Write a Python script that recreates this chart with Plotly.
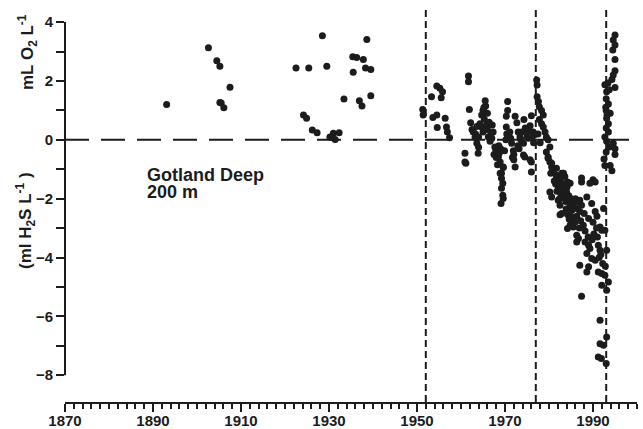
import plotly.graph_objects as go

# ---- data (year, mL O2/L ; negative = H2S) ----
years_early = [1893.1, 1902.6, 1904.5, 1905.2, 1907.5, 1905.2, 1905.5, 1906.1,
               1922.5, 1925.4, 1928.5, 1929.5, 1924.2, 1924.9, 1926.2, 1927.3,
               1930.2, 1931.0, 1932.3, 1931.4, 1930.5, 1933.4, 1935.4, 1936.3,
               1937.8, 1938.6, 1935.5, 1938.3, 1939.5, 1936.9, 1937.5, 1939.5]
vals_early = [1.2, 3.13, 2.69, 2.5, 1.79, 1.27, 1.25, 1.09,
              2.44, 2.44, 3.54, 2.5, 0.84, 0.73, 0.33, 0.24,
              0.1, 0.22, 0.24, 0.01, 0.08, 1.39, 2.82, 2.8,
              2.73, 3.41, 2.3, 2.44, 2.39, 1.33, 1.15, 1.5]

years_50s = [1951.3, 1951.4, 1953.3, 1954.5, 1955.2, 1955.8, 1955.5, 1953.6,
             1954.5, 1954.6, 1956.4, 1956.7, 1956.9, 1957.4]
vals_50s = [1.03, 0.84, 1.46, 1.83, 1.75, 1.63, 1.43, 0.76,
            0.84, 0.42, 0.73, 0.44, 0.27, 0.07]

years_60s = [1960.9, 1960.9, 1961.1, 1961.7, 1961.7, 1961.9, 1962.2, 1962.5, 1962.8,
             1963.2, 1963.6, 1963.9, 1963.3, 1964.0, 1964.3, 1964.7, 1965.0, 1965.5,
             1965.6, 1964.7, 1965.0, 1965.8, 1965.3, 1966.0, 1966.2, 1966.6, 1966.0,
             1967.3, 1967.0, 1967.7, 1968.1, 1968.5, 1968.9, 1969.6, 1969.2, 1968.0,
             1967.5, 1968.3, 1969.0, 1969.9, 1970.2, 1970.3, 1970.3, 1970.6, 1970.6,
             1970.4, 1971.1, 1971.5, 1971.9, 1972.0, 1972.3, 1972.3, 1972.7, 1973.0,
             1973.4, 1973.8, 1974.2, 1974.3, 1974.5, 1974.9, 1975.3, 1975.7, 1976.0,
             1976.0, 1976.0, 1976.4, 1976.5, 1975.7, 1974.2, 1975.0, 1974.6, 1975.5,
             1976.2, 1969.6, 1968.9, 1969.2, 1969.5, 1969.2, 1969.5, 1969.6, 1969.1,
             1967.1, 1966.8, 1968.6, 1971.3, 1973.2, 1972.0, 1964.0, 1963.6,
             1967.9, 1968.7, 1971.7, 1972.9, 1973.6, 1966.4, 1965.2]
vals_60s = [-0.46, -0.75, -0.8, 2.17, 1.97, 1.03, 0.58, 0.35, 0.27,
            0.09, -0.12, -0.46, 0.2, 0.1, 0.55, 0.84, 1.0, 1.33,
            1.15, 0.44, 0.27, 0.5, 0.7, 0.9, 0.1, -0.05, 0.35,
            0.27, 0.05, -0.24, -0.41, -0.58, -0.75, -0.92, -1.14, -0.6,
            -0.5, -0.85, -0.3, -0.37, 0.0, 0.44, 0.8, 1.0, 1.3,
            0.2, 0.27, -0.12, -0.37, -0.68, -0.92, 0.8, 0.58, 0.27,
            0.1, 0.27, -0.12, 0.69, -0.58, 0.27, 0.05, 0.48, 0.82,
            -0.75, -1.09, 0.27, -0.1, -0.68, -0.52, 0.1, 0.4, 0.3,
            0.1, -0.94, -1.14, -1.31, -1.48, -1.65, -1.88, -1.99, -2.16,
            0.5, 0.2, -0.2, 0.05, -0.3, -0.5, -0.25, 0.45,
            -0.35, -0.45, -0.6, -0.2, 0.0, 0.6, 1.1]

years_late = [1977.2, 1977.3, 1977.3, 1977.6, 1977.8, 1978.3, 1978.7, 1977.8, 1978.3,
              1978.7, 1979.1, 1979.4, 1979.8, 1980.2, 1979.4, 1979.8, 1980.2, 1980.6,
              1981.0, 1981.7, 1982.9, 1983.6, 1987.4, 1990.0, 1977.5, 1978.0,
              1979.8, 1980.6, 1981.7, 1980.4, 1981.7, 1983.3, 1982.9, 1984.2, 1984.8,
              1983.6, 1982.2, 1983.0, 1983.9, 1982.6, 1980.2, 1980.6, 1982.1, 1982.5,
              1982.9, 1982.5, 1984.4, 1984.8, 1985.2, 1986.3, 1987.0, 1987.4, 1987.0,
              1986.3, 1985.5, 1984.8, 1984.2, 1985.5, 1988.6, 1989.7, 1990.5, 1990.9,
              1989.0, 1987.4, 1989.3, 1990.5, 1991.6, 1992.0, 1992.7, 1992.4, 1986.3,
              1986.7, 1986.3, 1988.2, 1989.0, 1989.3, 1988.6, 1989.7, 1990.5, 1991.2,
              1991.6, 1993.1, 1987.0, 1989.0, 1988.6, 1991.2, 1992.0, 1992.7, 1993.5,
              1992.0, 1993.1, 1987.4, 1991.6, 1993.1, 1991.6, 1992.4, 1991.2, 1991.9,
              1993.0, 1981.5, 1982.0, 1982.3, 1983.0, 1983.3, 1984.0, 1982.8, 1983.2,
              1981.8, 1982.4, 1983.8, 1984.5, 1985.0, 1985.4, 1985.8, 1986.0, 1986.5,
              1983.9, 1984.3, 1984.1, 1982.0, 1981.2, 1983.0, 1985.0, 1985.9, 1987.8,
              1988.2, 1990.2, 1991.0, 1991.8, 1992.2, 1990.0, 1988.0, 1987.2, 1989.8,
              1991.4, 1992.8, 1990.8, 1984.6, 1986.9, 1988.9]
vals_late = [2.03, 1.86, 1.46, 1.3, 1.12, 1.0, 0.84, 0.69, 0.55,
             0.44, 0.27, 0.1, 0.0, -0.24, -0.41, -0.58, -0.75, -0.92,
             -1.1, -1.2, -1.14, -1.25, -1.3, -1.36, 0.2, -0.1,
             -0.63, -0.8, -0.97, -1.14, -1.31, -1.14, -1.48, -1.43, -1.48,
             -1.6, -1.65, -1.75, -1.72, -1.8, -1.77, -1.94, -2.05, -2.22,
             -2.5, -2.55, -2.05, -2.22, -2.39, -2.33, -2.05, -2.22, -2.44,
             -2.6, -2.73, -2.9, -3.01, -2.96, -1.94, -2.16, -2.44, -2.6,
             -2.67, -1.43, -1.48, -1.43, -2.96, -3.07, -3.07, -2.33, -3.24,
             -3.35, -3.47, -3.47, -3.58, -3.69, -3.86, -4.03, -4.09, -3.58,
             -3.75, -3.75, -4.26, -4.31, -4.49, -4.49, -4.54, -4.6, -4.83,
             -4.94, -5.11, -5.32, -6.13, -6.7, -6.93, -6.98, -7.38, -7.43,
             -7.6, -1.5, -1.55, -1.4, -1.7, -1.5, -1.8, -1.85, -1.95,
             -1.75, -2.0, -2.1, -1.9, -2.0, -2.15, -2.3, -2.0, -2.1,
             -2.35, -2.55, -1.6, -1.3, -1.4, -1.25, -2.6, -2.8, -2.9,
             -3.1, -3.2, -3.3, -3.9, -4.2, -2.8, -2.5, -2.75, -3.4,
             -4.0, -4.3, -3.0, -2.7, -3.0, -3.3]

years_93 = [1995.0, 1994.6, 1995.0, 1994.5, 1995.0, 1995.0, 1994.6, 1994.3, 1995.0,
            1992.7, 1993.1, 1993.7, 1993.0, 1993.5, 1993.0, 1993.9, 1993.1, 1993.5,
            1993.0, 1993.5, 1992.7, 1993.1, 1993.7, 1994.6, 1995.0, 1995.0, 1993.0,
            1992.5, 1993.9, 1992.7, 1994.3, 1993.4, 1992.9, 1993.2]
vals_93 = [3.56, 3.39, 3.22, 3.05, 2.73, 2.35, 2.2, 2.05, 1.78,
           1.87, 1.63, 1.7, 1.4, 1.22, 1.0, 0.9, 0.73, 0.55,
           0.4, 0.27, 0.1, -0.05, -0.24, -0.12, -0.3, -0.5, -0.41,
           -0.65, -0.87, -0.87, -1.05, 1.93, 1.11, 0.84]

event_years = [1952, 1977, 1993]

x_tick_vals = [1870, 1890, 1910, 1930, 1950, 1970, 1990]
y_tick_vals = [-8, -6, -4, -2, 0, 2, 4]

INK = "#1c1c1c"
FONT = "Liberation Sans, Arial, Helvetica, sans-serif"

# plot-area geometry (pixels) used to place free text
L, R, T, B = 65, 6, 8, 27
W, H = 643, 429
PW, PH = W - L - R, H - T - B


def px_to_paper(px, py):
    return (px - L) / PW, (H - B - py) / PH


years = years_early + years_50s + years_60s + years_late + years_93
vals = vals_early + vals_50s + vals_60s + vals_late + vals_93

fig = go.Figure()
fig.add_trace(go.Scatter(x=years, y=vals, mode="markers",
                         marker=dict(size=7, color=INK, line=dict(width=0)),
                         showlegend=False, cliponaxis=False))

shapes = []
shapes.append(dict(type="line", xref="x", yref="y", x0=1870, x1=2000, y0=0, y1=0,
                   line=dict(color=INK, width=2, dash="24px,12px"), layer="below"))
shapes.append(dict(type="line", xref="paper", yref="y", x0=0, x1=0, y0=-8, y1=4,
                   line=dict(color=INK, width=2)))
for ev in event_years:
    shapes.append(dict(type="line", xref="x", yref="paper", x0=ev, x1=ev, y0=0, y1=1.0,
                       line=dict(color=INK, width=2, dash="7px,4px"), layer="below"))


def bold(v):
    s = str(v)
    if v < 0:
        s = "\u2212" + str(-v)
    return "<b>" + s + "</b>"


tfont = dict(family=FONT, size=15, color=INK)
ax1 = px_to_paper(27, 52)
ax2 = px_to_paper(25, 221)
g1 = px_to_paper(145, 175)
g2 = px_to_paper(145, 192)

fig.update_layout(
    width=W, height=H,
    margin=dict(l=L, r=R, t=T, b=B),
    paper_bgcolor="white", plot_bgcolor="white",
    shapes=shapes,
    xaxis=dict(range=[1870, 2000], showgrid=False, zeroline=False, automargin=False,
               showline=True, linecolor=INK, linewidth=2,
               tickmode="array", tickvals=x_tick_vals,
               ticktext=[bold(v) for v in x_tick_vals],
               ticks="outside", ticklen=8, tickwidth=1.5, tickcolor=INK,
               ticklabelstandoff=-4,
               minor=dict(tickmode="linear", tick0=1870, dtick=2, ticklen=5,
                          tickwidth=1.5, tickcolor=INK, ticks="outside"),
               tickfont=tfont),
    yaxis=dict(range=[-8.91, 4.48], showgrid=False, zeroline=False, showline=False,
               automargin=False,
               tickmode="array", tickvals=y_tick_vals,
               ticktext=[bold(v) for v in y_tick_vals],
               ticks="outside", ticklen=8, tickwidth=1.5, tickcolor=INK,
               minor=dict(tickmode="array", tickvals=[-7, -5, -3, -1, 1, 3], ticklen=8,
                          tickwidth=1.5, tickcolor=INK, ticks="outside"),
               tickfont=tfont),
    annotations=[
        dict(text="<b>mL O<sub>2</sub> L<sup>-1</sup></b>", xref="paper", yref="paper",
             x=ax1[0], y=ax1[1], textangle=-90, showarrow=False,
             xanchor="center", yanchor="middle",
             font=dict(family=FONT, size=17, color=INK)),
        dict(text="<b>(ml H<sub>2</sub>S L<sup>-1</sup> )</b>", xref="paper", yref="paper",
             x=ax2[0], y=ax2[1], textangle=-90, showarrow=False,
             xanchor="center", yanchor="middle",
             font=dict(family=FONT, size=17, color=INK)),
        dict(text="<b>Gotland Deep</b>", xref="paper", yref="paper",
             x=g1[0], y=g1[1], showarrow=False,
             xanchor="left", yanchor="middle",
             font=dict(family=FONT, size=18, color=INK)),
        dict(text="<b>200 m</b>", xref="paper", yref="paper",
             x=g2[0], y=g2[1], showarrow=False,
             xanchor="left", yanchor="middle",
             font=dict(family=FONT, size=18, color=INK)),
    ],
)

fig.write_html("out.html", config={"displayModeBar": False},
               post_script="document.body.style.margin='0';document.body.style.overflow='hidden';")
